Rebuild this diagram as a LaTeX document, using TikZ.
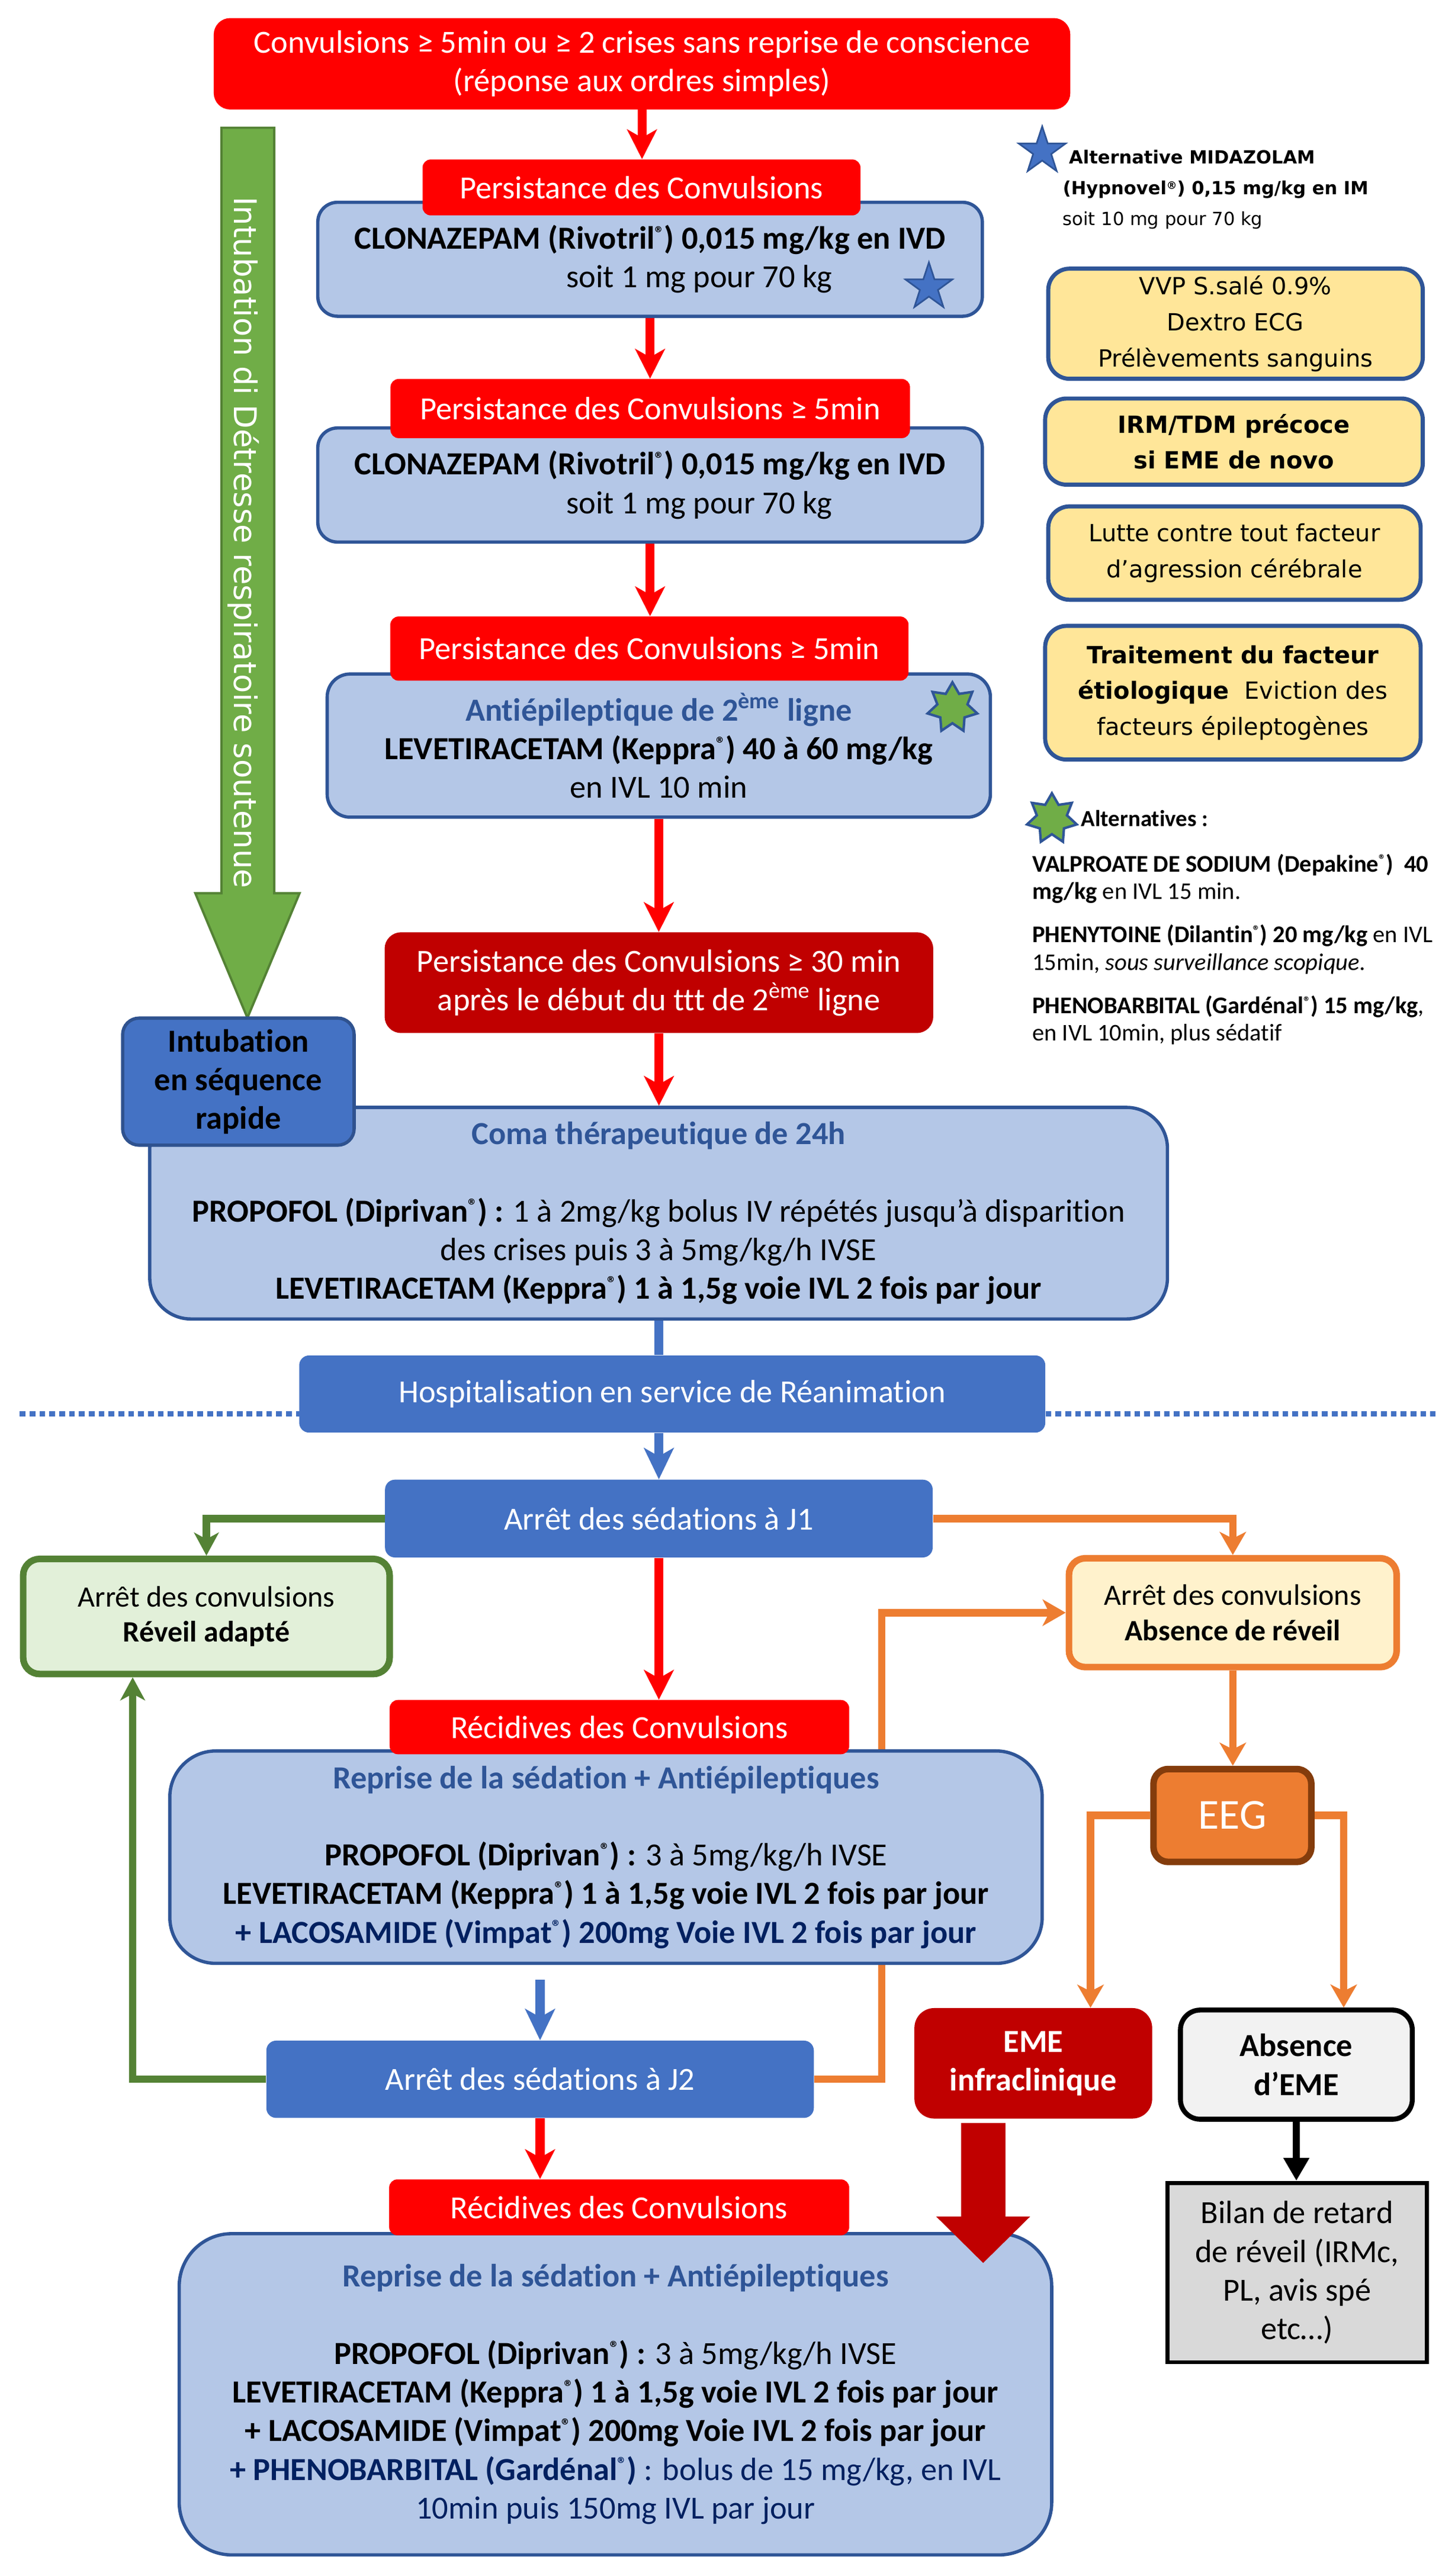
\documentclass[tikz,border=0pt]{standalone}
\usepackage{fontspec}
\setmainfont{Carlito}[Ligatures={NoCommon}]
\newfontfamily\verd{DejaVu Sans}
\usepackage{xcolor}
\usepackage{graphicx}
\usetikzlibrary{positioning, calc, arrows.meta, shapes.geometric}

\definecolor{rouge}{HTML}{FF0000}
\definecolor{bordeaux}{HTML}{C00000}
\definecolor{bleuclair}{HTML}{B4C7E7}
\definecolor{bleubord}{HTML}{2F5597}
\definecolor{bleuint}{HTML}{2F528F}
\definecolor{bleu}{HTML}{4472C4}
\definecolor{marine}{HTML}{002060}
\definecolor{vert}{HTML}{70AD47}
\definecolor{vertfonce}{HTML}{548235}
\definecolor{vertclair}{HTML}{E2F0D9}
\definecolor{orng}{HTML}{ED7D31}
\definecolor{orangeclair}{HTML}{FFF2CC}
\definecolor{brun}{HTML}{843C0C}
\definecolor{jaune}{HTML}{FFE699}
\definecolor{gris}{HTML}{D9D9D9}
\definecolor{grisclair}{HTML}{F2F2F2}

\newcommand\reg{\raisebox{0.3em}{\scalebox{0.58}{®}}}

\begin{document}
\begin{tikzpicture}[x=1pt, y=-1pt,
	txt/.style={font=\fontsize{19.6pt}{23.5pt}\selectfont},
	txtbf/.style={font=\fontsize{19.6pt}{23.5pt}\selectfont\bfseries},
	redtag/.style={txt, fill=rouge, text=white, rounded corners=5pt, inner sep=0pt},
	blubox/.style={txt, draw=bleubord, line width=2pt, fill=bleuclair, rounded corners=12pt, inner sep=0pt, align=center},
	bluebar/.style={txt, fill=bleu, text=white, rounded corners=6pt, inner sep=0pt},
	sidebox/.style={font=\verd\fontsize{14.4pt}{21.8pt}\selectfont, draw=bleubord, line width=2.5pt, fill=jaune, rounded corners=13pt, inner sep=0pt, align=center},
	outcome/.style={font=\fontsize{18pt}{21.3pt}\selectfont, line width=4pt, rounded corners=10pt, inner sep=0pt, align=center},
	flow/.style={line width=5.5pt, draw=rouge, -{Stealth[length=18pt, width=18pt, inset=5pt]}},
	flowblue/.style={line width=5.5pt, draw=bleu, -{Stealth[length=19pt, width=18pt, inset=5pt]}},
	flowor/.style={line width=4.5pt, draw=orng, -{Stealth[length=14pt, width=16pt, inset=4pt]}},
	flowgr/.style={line width=4.5pt, draw=vertfonce, -{Stealth[length=14pt, width=15pt, inset=4pt]}},
	bluestar/.style={star, star points=5, star point ratio=2.6, minimum size=30pt, inner sep=0pt, fill=bleu, draw=bleubord, line width=1pt},
	greenstar/.style={star, star points=7, star point ratio=1.65, minimum size=31pt, inner sep=0pt, fill=vert, draw=bleubord, line width=1.5pt}]

	\useasboundingbox (0,0) rectangle (885,1566.85);
	\fill[white] (0,0) rectangle (885,1566.85);

	% intubation arrow on the left
	\filldraw[fill=vert, draw=vertfonce, line width=1.4pt] (134.7,77.7) -- (166.8,77.7) -- (166.8,543.3) -- (182.2,543.3) -- (150.5,619.1) -- (118.8,543.3) -- (134.7,543.3) -- cycle;
	\node[rotate=-90, text=white, font=\verd\fontsize{19pt}{23pt}\selectfont, inner sep=0pt] (intubtxt) at (148,330) {Intubation di Détresse respiratoire soutenue};

	% first line
	\node[txt, fill=rouge, text=white, rounded corners=10pt, inner sep=0pt, align=center, minimum width=521pt, minimum height=55.6pt] (onset) at (390.5,38.8) {Convulsions ≥ 5min ou ≥ 2 crises sans reprise de conscience\\(réponse aux ordres simples)};

	\node[blubox, minimum width=404.2pt, minimum height=69.3pt] (clo1) at (395.4,157.7) {\textbf{CLONAZEPAM (Rivotril\reg) 0,015 mg/kg en IVD}\\\hspace*{60pt}soit 1 mg pour 70 kg};
	\node[redtag, minimum width=266.4pt, minimum height=34pt] (tag1) at (390.2,114) {Persistance des Convulsions};
	\node[bluestar] (star1) at (565,174.6) {};

	\node[blubox, minimum width=404.2pt, minimum height=69.4pt] (clo2) at (395.4,295) {\textbf{CLONAZEPAM (Rivotril\reg) 0,015 mg/kg en IVD}\\\hspace*{60pt}soit 1 mg pour 70 kg};
	\node[redtag, minimum width=316pt, minimum height=36pt] (tag2) at (395.5,248.5) {Persistance des Convulsions ≥ 5min};

	% second line
	\node[blubox, rounded corners=14pt, minimum width=403.4pt, minimum height=87.1pt] (anti) at (400.7,453.5) {{\color{bleubord}\textbf{Antiépileptique de 2\textsuperscript{ème} ligne}}\\\textbf{LEVETIRACETAM (Keppra\reg) 40 à 60 mg/kg}\\en IVL 10 min};
	\node[redtag, minimum width=315.2pt, minimum height=39pt] (tag3) at (395,394.5) {Persistance des Convulsions ≥ 5min};
	\node[greenstar] (star2) at (579.3,430.5) {};

	\node[txt, fill=bordeaux, text=white, rounded corners=10pt, inner sep=0pt, align=center, minimum width=333.7pt, minimum height=61.3pt] (late) at (400.8,597.7) {Persistance des Convulsions ≥ 30 min\\après le début du ttt de 2\textsuperscript{ème} ligne};

	% coma
	\node[blubox, rounded corners=25pt, minimum width=619pt, minimum height=128.7pt] (coma) at (400.6,737.9) {{\color{bleubord}\textbf{Coma thérapeutique de 24h}}\\[23.5pt]\textbf{PROPOFOL (Diprivan\reg) :} 1 à 2mg/kg bolus IV répétés jusqu’à disparition\\des crises puis 3 à 5mg/kg/h IVSE\\\textbf{LEVETIRACETAM (Keppra\reg) 1 à 1,5g voie IVL 2 fois par jour}};
	\node[txtbf, fill=bleu, draw=bleuint, line width=2pt, rounded corners=10pt, inner sep=0pt, align=center, minimum width=140.8pt, minimum height=77.3pt] (intub) at (145,657.9) {Intubation\\en séquence\\rapide};

	% reanimation
	\coordinate (sepL) at (12,860);
	\coordinate (sepR) at (873,860);
	\draw[bleu, line width=3.5pt, dash pattern=on 3.5pt off 2.5pt] (sepL) -- (sepR);

	\node[bluebar, minimum width=453.8pt, minimum height=46.9pt] (hosp) at (408.9,847.9) {Hospitalisation en service de Réanimation};
	\node[bluebar, minimum width=333.1pt, minimum height=47.3pt] (J1) at (400.75,923.65) {Arrêt des sédations à J1};
	\node[outcome, draw=vertfonce, fill=vertclair, minimum width=222.9pt, minimum height=70pt] (reveil) at (125.55,983.2) {Arrêt des convulsions\\\textbf{Réveil adapté}};
	\node[outcome, draw=orng, fill=orangeclair, minimum width=199.3pt, minimum height=66.2pt] (noreveil) at (749.85,980.9) {Arrêt des convulsions\\\textbf{Absence de réveil}};
	\node[font=\fontsize{26pt}{31pt}\selectfont, fill=orng, draw=brun, line width=4pt, text=white, rounded corners=9pt, inner sep=0pt, minimum width=96pt, minimum height=56.5pt] (eeg) at (749.6,1104.25) {EEG};
	\node[bluebar, minimum width=333pt, minimum height=47pt] (J2) at (328.5,1264.7) {Arrêt des sédations à J2};
	\node[txtbf, fill=bordeaux, text=white, rounded corners=12pt, inner sep=0pt, align=center, minimum width=144.6pt, minimum height=67.2pt] (eme) at (628.5,1255) {EME\\infraclinique};
	\node[txtbf, fill=grisclair, draw=black, line width=3pt, rounded corners=12pt, inner sep=0pt, align=center, minimum width=141pt, minimum height=66.4pt] (abseme) at (788.5,1255.8) {Absence\\d’EME};
	\node[txt, fill=gris, draw=black, line width=2.5pt, inner sep=0pt, align=center, minimum width=157.8pt, minimum height=109.1pt] (bilan) at (788.9,1382.25) {Bilan de retard\\de réveil (IRMc,\\PL, avis spé\\etc…)};

	% runs behind the first Reprise box
	\draw[flowor] (J2.east) -- ++(41.2,0) |- (noreveil.west);

	\node[blubox, rounded corners=28pt, minimum width=530.6pt, minimum height=129.2pt] (rep1) at (368.6,1129.6) {{\color{bleubord}\textbf{Reprise de la sédation + Antiépileptiques}}\\[23.5pt]\textbf{PROPOFOL (Diprivan\reg) :} 3 à 5mg/kg/h IVSE\\\textbf{LEVETIRACETAM (Keppra\reg) 1 à 1,5g voie IVL 2 fois par jour}\\{\color{marine}\textbf{+ LACOSAMIDE (Vimpat\reg) 200mg Voie IVL 2 fois par jour}}};
	\node[redtag, minimum width=279.5pt, minimum height=33pt] (rec1) at (376.75,1050.5) {Récidives des Convulsions};

	\node[blubox, rounded corners=32pt, minimum width=530.7pt, minimum height=195.4pt] (rep2) at (374.35,1456.3) {{\color{bleubord}\textbf{Reprise de la sédation + Antiépileptiques}}\\[23.5pt]\textbf{PROPOFOL (Diprivan\reg) :} 3 à 5mg/kg/h IVSE\\\textbf{LEVETIRACETAM (Keppra\reg) 1 à 1,5g voie IVL 2 fois par jour}\\\textbf{+ LACOSAMIDE (Vimpat\reg) 200mg Voie IVL 2 fois par jour}\\{\color{marine}\textbf{+ PHENOBARBITAL (Gardénal\reg)} : bolus de 15 mg/kg, en IVL}\\{\color{marine}10min puis 150mg IVL par jour}};
	\node[redtag, minimum width=279.8pt, minimum height=34pt] (rec2) at (376.6,1342.6) {Récidives des Convulsions};

	% connectors
	\draw[flow] (onset.south) -- (onset.south |- tag1.north);
	\draw[flow] (clo1.south) -- (clo1.south |- tag2.north);
	\draw[flow] (clo2.south) -- (clo2.south |- tag3.north);
	\draw[flow] (anti.south) -- (anti.south |- late.north);
	\draw[flow] (late.south) -- (late.south |- coma.north);
	\draw[bleu, line width=5.5pt] (coma.south) -- (coma.south |- hosp.north);
	\draw[flowblue] (J1.north |- hosp.south) -- (J1.north);
	\draw[flowgr] (J1.west) -| (reveil.north);
	\draw[flowor] (J1.east) -| (noreveil.north);
	\draw[flow] (J1.south) -- (J1.south |- rec1.north);
	\draw[flowor] (noreveil.south) -- (noreveil.south |- eeg.north);
	\draw[flowor] (eeg.west) -| ($(eme.north)+(34.8,0)$);
	\draw[flowor] (eeg.east) -| ($(abseme.north)+(28.8,0)$);
	\draw[flowblue, shorten <=9pt] (J2.north |- rep1.south) -- (J2.north);
	\draw[flowgr] (J2.west) -| ($(reveil.south)+(-44.85,0)$);
	\draw[flow] (J2.south) -- (J2.south |- rec2.north);
	\draw[line width=4.4pt, -{Triangle[length=14pt, width=15pt]}] (abseme.south) -- (abseme.south |- bilan.north);
	\draw[bordeaux, line width=27pt, -{Triangle[length=28.3pt, width=55.4pt]}] ($(eme.south)+(-30.5,2.4)$) -- ++(0,85.3);

	% notes on the right
	\node[bluestar] (star3) at (633.9,91.9) {};
	\node[font=\verd\fontsize{11pt}{18.7pt}\selectfont, align=left, anchor=north west, inner sep=0pt] (midaz) at (646.3,91.2) {\hspace*{3.7pt}\textbf{Alternative MIDAZOLAM}\\\textbf{(Hypnovel\reg) 0,15 mg/kg en IM}\\soit 10 mg pour 70 kg};

	\node[sidebox, minimum width=227.8pt, minimum height=67pt] (vvp) at (751.5,196.9) {VVP S.salé 0.9\%\\Dextro ECG\\Prélèvements sanguins};
	\node[sidebox, font=\verd\fontsize{14.4pt}{21.8pt}\selectfont\bfseries, minimum width=229.7pt, minimum height=52.4pt] (irm) at (750.55,268.6) {IRM/TDM précoce\\si EME de novo};
	\node[sidebox, minimum width=226.5pt, minimum height=56.8pt] (lutte) at (750.85,336.4) {Lutte contre tout facteur\\d’agression cérébrale};
	\node[sidebox, minimum width=228.4pt, minimum height=81.3pt] (etio) at (749.9,421.35) {\textbf{Traitement du facteur}\\\textbf{étiologique}\ \ Eviction des\\facteurs épileptogènes};

	\node[greenstar] (star4) at (639.8,498) {};
	\node[font=\fontsize{14pt}{16.7pt}\selectfont\bfseries, anchor=base west, inner sep=0pt] (altlab) at (657.4,502.8) {Alternatives :};
	\node[font=\fontsize{14.6pt}{16.7pt}\selectfont, align=left, anchor=north west, inner sep=0pt] (altlist) at (627.7,519.2) {\textbf{VALPROATE DE SODIUM (Depakine\reg)\ \ 40}\\\textbf{mg/kg} en IVL 15 min.\\[9.7pt]\textbf{PHENYTOINE (Dilantin\reg) 20 mg/kg} en IVL\\15min, \textit{sous surveillance scopique.}\\[9.7pt]\textbf{PHENOBARBITAL (Gardénal\reg) 15 mg/kg},\\en IVL 10min, plus sédatif};

\end{tikzpicture}
\end{document}
